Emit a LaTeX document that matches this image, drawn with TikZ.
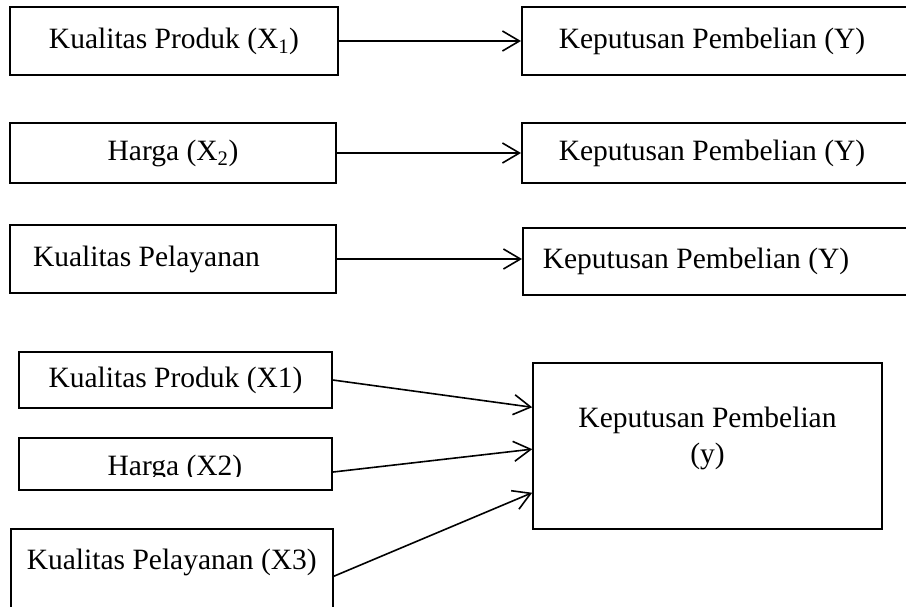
\documentclass[tikz,border=0pt]{standalone}
\usepackage{fontspec}
\setmainfont{Liberation Serif}
\usetikzlibrary{arrows.meta, positioning, calc}

\begin{document}
\begin{tikzpicture}[
        x=1pt, y=-1pt,
        font=\fontsize{29.5}{36}\selectfont,
        box/.style={draw, line width=1.6pt, inner sep=0pt},
        lbox/.style={box, minimum width=326pt, minimum height=60pt},
        rbox/.style={box, anchor=west, minimum width=420pt, text width=346pt, align=flush left},
        arrow/.style={-{Straight Barb[length=17pt, width=20pt, line width=1.6pt]}, line width=1.6pt}
    ]
    \useasboundingbox (0,0) rectangle (906,606);
    \clip (0,0) rectangle (906,606);
    % satu per satu
    \node[lbox, minimum width=328pt, minimum height=68pt] (kp) at (174,41) {Kualitas Produk (X\textsubscript{1})};
    \node[rbox, minimum height=68pt] (kpY) at (521,41) {Keputusan Pembelian (Y)};
    \node[lbox] (hg) at (173,153) {Harga (X\textsubscript{2})};
    \node[rbox, minimum height=60pt] (kpY2) at (521,153) {Keputusan Pembelian (Y)};
    \node[lbox, minimum height=68pt, text width=280pt, align=flush left] (kl) at (173,259) {Kualitas Pelayanan};
    \node[rbox, minimum height=67pt, text width=380pt] (kpY3) at (522,261.5) {Keputusan Pembelian (Y)};
    \draw[arrow] (kp) -- (kpY);
    \draw[arrow] (hg) -- (kpY2);
    \draw[arrow] (kl.east) -- (kl.east -| kpY3.west);
    % bersama-sama
    \node[box, minimum width=313pt, minimum height=56pt] (kp1) at (175.5,380) {Kualitas Produk (X1)};
    \node[box, minimum width=313pt, minimum height=52pt] (hg2) at (175.5,464) {};
    \begin{scope}
        \clip (19,438) rectangle (332,476);
        \node (hg2t) at (175,468) {Harga (X2)};
    \end{scope}
    \node[box, anchor=north west, minimum width=322pt, inner ysep=20pt, text depth=70pt] (kl3) at (10,528) {Kualitas Pelayanan (X3)};
    \node[box, anchor=north, minimum width=349pt, align=center, text height=101pt, text depth=65pt] (kpy) at (707.5,362) {Keputusan Pembelian\\(y)};
    \draw[arrow] (kp1.east) -- ($(kpy.north west)!0.27!(kpy.south west)$);
    \draw[arrow] ($(hg2.north east)!0.65!(hg2.south east)$) -- ($(kpy.north west)!0.52!(kpy.south west)$);
    \draw[arrow] ($(kl3.north east)!0.366!(kl3.south east)$) -- ($(kpy.north west)!0.78!(kpy.south west)$);
\end{tikzpicture}
\end{document}
